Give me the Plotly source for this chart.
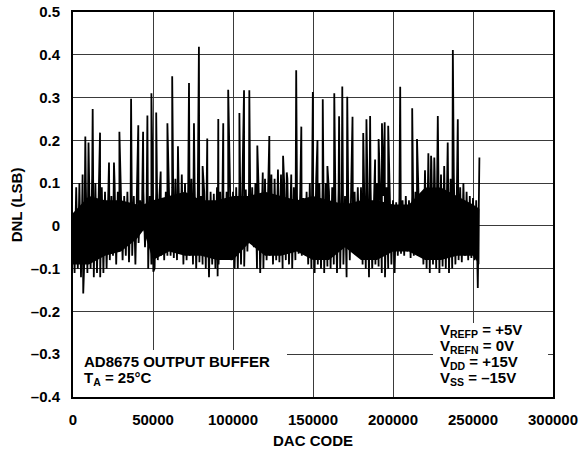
import plotly.graph_objects as go

# DAC codes at which the upper noise envelope was read (every 2000 codes)
codes = list(range(0, 254001, 2000))

# upper envelope of the noise band (LSB) at each code
hi = [
    0.03, 0.09, 0.10, 0.12, 0.10, 0.11, 0.12, 0.10, 0.11, 0.09,
    0.08, 0.09, 0.07, 0.10, 0.08, 0.09, 0.07, 0.08, 0.06, 0.07,
    0.07, 0.06, 0.08, 0.05, 0.07, 0.06, 0.08, 0.07, 0.06, 0.08,
    0.08, 0.09, 0.11, 0.10, 0.12, 0.10, 0.09, 0.11, 0.10, 0.08,
    0.07, 0.08, 0.07, 0.08, 0.075, 0.09, 0.08, 0.07, 0.08, 0.09,
    0.08, 0.09, 0.10, 0.09, 0.085, 0.08, 0.09, 0.10, 0.09, 0.095,
    0.11, 0.10, 0.12, 0.11, 0.10, 0.12, 0.10, 0.11, 0.12, 0.09,
    0.07, 0.075, 0.065, 0.08, 0.10, 0.10, 0.11, 0.10, 0.09, 0.10,
    0.08, 0.09, 0.07, 0.085, 0.08, 0.07, 0.075, 0.09, 0.08, 0.09,
    0.09, 0.08, 0.10, 0.09, 0.08, 0.10, 0.09, 0.07, 0.09, 0.08,
    0.06, 0.055, 0.065, 0.06, 0.07, 0.06, 0.07, 0.08, 0.075, 0.07,
    0.13, 0.14, 0.15, 0.13, 0.15, 0.12, 0.14, 0.13, 0.11, 0.12,
    0.10, 0.09, 0.10, 0.08, 0.07, 0.065, 0.06, 0.16,
]

# lower envelope of the noise band (LSB), read midway between the codes above
lo = [
    -0.11, -0.10, -0.12, -0.09, -0.11, -0.10, -0.12, -0.11, -0.12, -0.11,
    -0.10, -0.08, -0.07, -0.09, -0.06, -0.08, -0.07, -0.085, -0.07, -0.09,
    -0.04, -0.005, -0.05, -0.10, -0.09, -0.10, -0.08, -0.07, -0.08, -0.07,
    -0.07, -0.075, -0.08, -0.065, -0.09, -0.08, -0.07, -0.09, -0.10, -0.085,
    -0.09, -0.10, -0.12, -0.09, -0.10, -0.09, -0.07, -0.065, -0.07, -0.08,
    -0.10, -0.10, -0.09, -0.095, -0.06, -0.04, -0.05, -0.10, -0.11, -0.10,
    -0.08, -0.07, -0.09, -0.08, -0.085, -0.10, -0.08, -0.09, -0.10, -0.08,
    -0.065, -0.07, -0.06, -0.09, -0.10, -0.11, -0.09, -0.10, -0.11, -0.095,
    -0.10, -0.09, -0.11, -0.10, -0.09, -0.12, -0.08, -0.06, -0.05, -0.065,
    -0.09, -0.10, -0.12, -0.10, -0.09, -0.095, -0.11, -0.12, -0.10, -0.09,
    -0.11, -0.07, -0.065, -0.07, -0.06, -0.075, -0.07, -0.065, -0.07, -0.09,
    -0.10, -0.11, -0.09, -0.10, -0.11, -0.095, -0.10, -0.11, -0.10, -0.09,
    -0.08, -0.085, -0.07, -0.08, -0.075, -0.08, -0.145,
]

# dense (solid black) core of the noise band
core_codes = [0, 10000, 20000, 30000, 40000, 44000, 50000, 60000, 70000, 80000, 90000,
              100000, 110000, 120000, 130000, 140000, 150000, 160000, 170000, 180000,
              190000, 200000, 210000, 220000, 230000, 240000, 250000, 254000]
core_hi = [0.03, 0.07, 0.06, 0.06, 0.05, 0.05, 0.06, 0.07, 0.08, 0.06, 0.06,
           0.07, 0.07, 0.08, 0.07, 0.06, 0.07, 0.06, 0.05, 0.06, 0.06,
           0.05, 0.05, 0.09, 0.09, 0.07, 0.05, 0.04]
core_lo = [-0.09, -0.09, -0.07, -0.06, -0.03, -0.01, -0.08, -0.06, -0.07, -0.07, -0.08,
           -0.08, -0.04, -0.07, -0.07, -0.06, -0.08, -0.08, -0.05, -0.08, -0.08,
           -0.06, -0.06, -0.08, -0.08, -0.07, -0.07, -0.09]

# isolated positive DNL spikes: code and value
spike_codes = [
    7700, 9700, 12300, 16900, 22500, 25600, 29000, 36300, 40800, 43800,
    46500, 49000, 52000, 54800, 59000, 62000, 65600, 72500, 75600, 78700,
    81000, 83900, 90800, 93900, 97000, 104000, 106900, 110200, 115200, 118600,
    122700, 128100, 131300, 133600, 136400, 139500, 142700, 149900, 152800, 156100,
    159000, 163300, 166300, 168300, 171400, 174700, 181400, 183400, 185700, 188800,
    191000, 193100, 194800, 197000, 204500, 212000, 215000, 222100, 223800, 225800,
    228000, 234200, 237400, 240500,
]
spike_vals = [
    0.209, 0.195, 0.273, 0.218, 0.148, 0.148, 0.220, 0.297, 0.235, 0.220,
    0.258, 0.310, 0.265, 0.127, 0.240, 0.350, 0.186, 0.334, 0.240, 0.419,
    0.140, 0.204, 0.250, 0.240, 0.318, 0.264, 0.317, 0.317, 0.188, 0.125,
    0.210, 0.132, 0.164, 0.125, 0.120, 0.364, 0.232, 0.313, 0.201, 0.296,
    0.140, 0.310, 0.256, 0.326, 0.302, 0.255, 0.217, 0.249, 0.257, 0.155,
    0.203, 0.240, 0.242, 0.234, 0.325, 0.275, 0.203, 0.170, 0.164, 0.160,
    0.257, 0.195, 0.411, 0.249,
]

# isolated negative spikes
dip_codes = [6400, 50200, 90400]
dip_vals = [-0.158, -0.107, -0.118]

xtick_vals = [0, 50000, 100000, 150000, 200000, 250000, 300000]
xtick_text = ["0", "50000", "100000", "150000", "200000", "250000", "300000"]
ytick_vals = [-0.4, -0.3, -0.2, -0.1, 0, 0.1, 0.2, 0.3, 0.4, 0.5]
ytick_text = ["–0.4", "–0.3", "–0.2", "–0.1", "0", "0.1", "0.2", "0.3", "0.4", "0.5"]

lo_codes = [c + 1000 for c in codes[:len(lo)]]

# assemble the trace: upper envelope, lower envelope (offset half a step), spikes
pts = list(zip(codes, hi)) + list(zip(lo_codes, lo))
pts += list(zip(spike_codes, spike_vals))
pts += list(zip(dip_codes, dip_vals))
pts.sort(key=lambda p: p[0])
xs = [p[0] for p in pts]
ys = [p[1] for p in pts]

FONT = "Liberation Sans, Arial, Helvetica, sans-serif"

fig = go.Figure()
# solid core of the noise band
fig.add_trace(go.Scatter(x=core_codes, y=core_hi, mode="lines",
                         line=dict(color="black", width=0),
                         hoverinfo="skip", showlegend=False))
fig.add_trace(go.Scatter(x=core_codes, y=core_lo, mode="lines",
                         line=dict(color="black", width=0),
                         fill="tonexty", fillcolor="black",
                         hoverinfo="skip", showlegend=False))
# the DNL trace itself
fig.add_trace(go.Scatter(x=xs, y=ys, mode="lines",
                         line=dict(color="black", width=1.8),
                         hoverinfo="skip", showlegend=False))

fig.update_layout(
    width=582, height=452,
    margin=dict(l=73, r=29, t=12, b=55, autoexpand=False),
    paper_bgcolor="white", plot_bgcolor="white",
    font=dict(family=FONT, size=15, color="black", weight="bold"),
)
fig.update_xaxes(
    range=[0, 300000], tickvals=xtick_vals, ticktext=xtick_text,
    showgrid=True, gridcolor="#3a3a3a", gridwidth=1,
    showline=True, linecolor="black", linewidth=2, mirror=True,
    zeroline=False, ticks="", ticklabelstandoff=8, automargin=False,
    ticklabeloverflow="allow",
    tickfont=dict(family=FONT, size=15, weight="bold"),
)
fig.update_yaxes(
    range=[-0.4, 0.5], tickvals=ytick_vals, ticktext=ytick_text,
    showgrid=True, gridcolor="#3a3a3a", gridwidth=1,
    showline=True, linecolor="black", linewidth=2, mirror=True,
    zeroline=False, ticks="", ticklabelstandoff=8, automargin=False,
    ticklabeloverflow="allow",
    tickfont=dict(family=FONT, size=15, weight="bold"),
)

# white boxes behind the notes (hide gridlines)
fig.add_shape(type="rect", xref="x", yref="y", x0=0, x1=133750, y0=-0.4, y1=-0.29,
              fillcolor="white", line=dict(width=0), layer="between")
fig.add_shape(type="rect", xref="x", yref="y", x0=225000, x1=296900, y0=-0.4, y1=-0.227,
              fillcolor="white", line=dict(width=0), layer="between")

ann_font = dict(family=FONT, size=15, color="black", weight="bold")
left_lines = ["AD8675 OUTPUT BUFFER", "T<sub>A</sub> = 25°C"]
left_y = [-0.318, -0.357]
for t, yv in zip(left_lines, left_y):
    fig.add_annotation(x=6250, y=yv, xref="x", yref="y", text=t, showarrow=False,
                       xanchor="left", yanchor="middle", font=ann_font, borderpad=0)

right_lines = ["V<sub>REFP</sub> = +5V", "V<sub>REFN</sub> = 0V",
               "V<sub>DD</sub> = +15V", "V<sub>SS</sub> = –15V"]
right_y = [-0.244, -0.281, -0.319, -0.356]
for t, yv in zip(right_lines, right_y):
    fig.add_annotation(x=229000, y=yv, xref="x", yref="y", text=t, showarrow=False,
                       xanchor="left", yanchor="middle", font=ann_font, borderpad=0)

fig.add_annotation(x=0.5, y=-0.114, xref="paper", yref="paper", text="DAC CODE",
                   showarrow=False, xanchor="center", yanchor="middle", font=ann_font)
fig.add_annotation(x=-0.117, y=0.5, xref="paper", yref="paper", text="DNL (LSB)",
                   textangle=-90, showarrow=False, xanchor="center", yanchor="middle",
                   font=ann_font)

# remove the browser's default page margin so the figure sits at the window origin
fig.write_html("out.html", config={"displayModeBar": False},
               post_script="document.body.style.margin='0';document.body.style.overflow='hidden';")
